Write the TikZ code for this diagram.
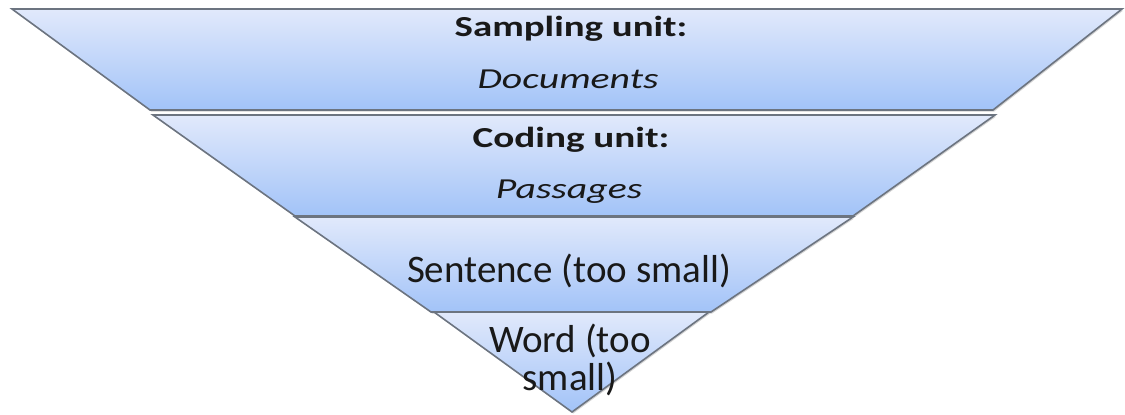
\documentclass[tikz,border=0pt]{standalone}
\usepackage{fontspec}
\setmainfont{Carlito}
\usetikzlibrary{shadows}
\definecolor{layertop}{RGB}{225,233,251}
\definecolor{layerbot}{RGB}{162,195,248}
\definecolor{edgegray}{RGB}{108,116,128}
\tikzset{
  layer/.style={draw=edgegray, line width=1.6pt, top color=layertop, bottom color=layerbot,
    line join=miter,
    drop shadow={opacity=0.35, shadow xshift=1.2pt, shadow yshift=-1.5pt}},
  toptext/.style={inner sep=0pt, anchor=base, text=black!90,
    font=\fontsize{29}{35}\selectfont},
  bigtext/.style={inner sep=0pt, anchor=base, text=black!90, align=center,
    font=\fontsize{39}{38}\selectfont},
}
\begin{document}
\begin{tikzpicture}[x=1pt,y=1pt]
\useasboundingbox (0,0) rectangle (1125,-415);
% layers
\path[layer] (12,-9) -- (1122,-9) -- (993,-110) -- (150,-110) -- cycle;
\path[layer] (153,-115) -- (995,-115) -- (853,-216) -- (295,-216) -- cycle;
\path[layer] (295,-217) -- (853,-217) -- (711,-312) -- (431,-312) -- cycle;
\path[layer] (434,-312) -- (709,-312) -- (572,-412) -- cycle;
% texts
\node[toptext] (sampling) at (571,-36) {\scalebox{1.34}[1]{\textbf{Sampling unit:}}};
\node[toptext] (documents) at (568,-88) {\scalebox{1.37}[1]{\textit{Documents}}};
\node[toptext] (coding) at (571,-147) {\scalebox{1.35}[1]{\textbf{Coding unit:}}};
\node[toptext] (passages) at (569,-198) {\scalebox{1.37}[1]{\textit{Passages}}};
\node[bigtext] (sentence) at (569,-282) {Sentence (too small)};
\node[bigtext] (word) at (570,-390) {Word (too\\small)};
\end{tikzpicture}
\end{document}
